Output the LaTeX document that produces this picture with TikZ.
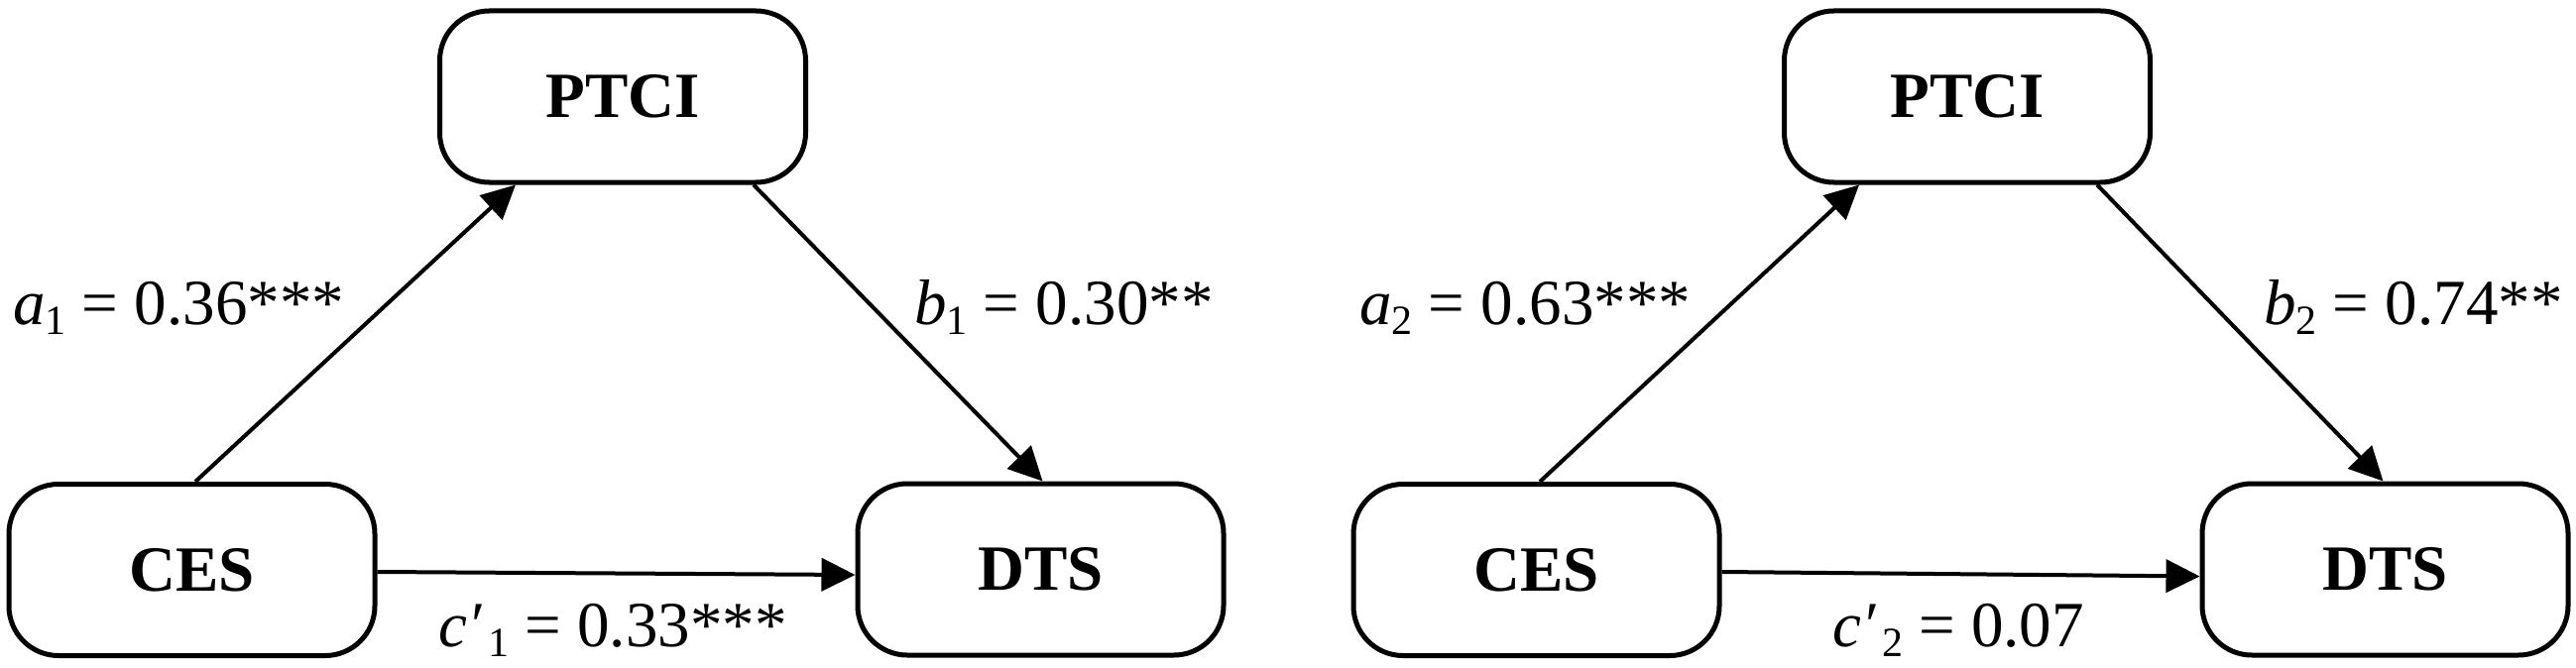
\documentclass[tikz,border=0pt]{standalone}
\usepackage{fontspec}
\setmainfont{Liberation Serif}
\usetikzlibrary{arrows.meta}
\newcommand{\lowsub}[1]{\raisebox{-10pt}{\fontsize{42}{42}\selectfont #1}}
\begin{document}
\begin{tikzpicture}[x=1pt,y=-1pt,
  varbox/.style={draw, line width=5pt, rounded corners=50pt, minimum width=369pt, minimum height=173pt, inner sep=0pt, font=\fontsize{65}{78}\selectfont\bfseries},
  lbl/.style={inner sep=0pt, font=\fontsize{65}{78}\selectfont},
  arr/.style={line width=4pt, -{Triangle[length=34pt,width=33pt]}}]
\useasboundingbox (0,0) rectangle (2598,674);
% left panel
\node[varbox] (PTCI1) at (628,97.5) {PTCI};
\node[varbox] (CES1) at (193.5,575) {CES};
\node[varbox] (DTS1) at (1049.5,574.5) {DTS};
\draw[arr] ([xshift=3.5pt]CES1.north) -- ([xshift=-108pt]PTCI1.south);
\draw[arr] ([xshift=132pt]PTCI1.south) -- ([xshift=2pt]DTS1.north);
\draw[arr] ([yshift=-2pt]CES1.east) -- ([yshift=-5.5pt]DTS1.west);
\node[lbl, anchor=base west] (la1) at (13,327) {\textit{a}\lowsub{1} = 0.36***};
\node[lbl, anchor=base west] (lb1) at (922,327) {\textit{b}\lowsub{1} = 0.30**};
\node[lbl, anchor=base] (lc1) at (618,652) {\textit{c′}\hspace{6pt}\lowsub{1} = 0.33***};
% right panel
\node[varbox] (PTCI2) at (1984,97.5) {PTCI};
\node[varbox] (CES2) at (1549.5,575) {CES};
\node[varbox] (DTS2) at (2405.5,574.5) {DTS};
\draw[arr] ([xshift=3.5pt]CES2.north) -- ([xshift=-109pt]PTCI2.south);
\draw[arr] ([xshift=131pt]PTCI2.south) -- ([xshift=-2pt]DTS2.north);
\draw[arr] ([yshift=-2pt]CES2.east) -- ([yshift=-7pt]DTS2.west);
\node[lbl, anchor=base west] (la2) at (1371,327) {\textit{a}\lowsub{2} = 0.63***};
\node[lbl, anchor=base west] (lb2) at (2283,327) {\textit{b}\lowsub{2} = 0.74**};
\node[lbl, anchor=base] (lc2) at (1975,652) {\textit{c′}\hspace{6pt}\lowsub{2} = 0.07};
\end{tikzpicture}
\end{document}
